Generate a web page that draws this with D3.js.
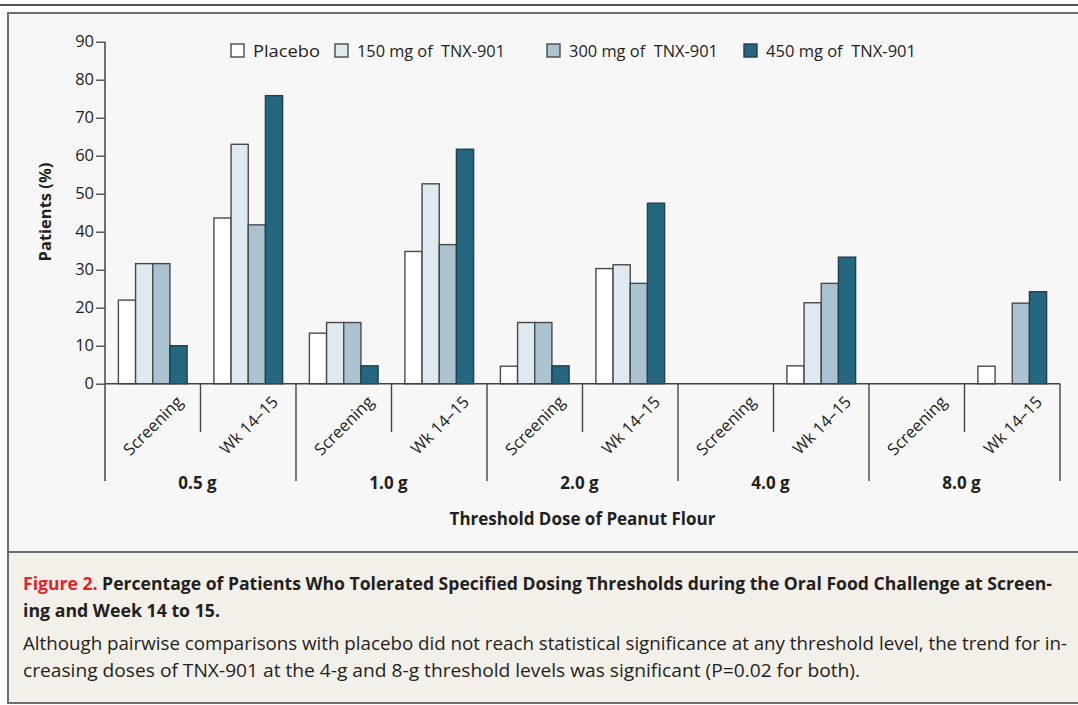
<!DOCTYPE html>
<html lang="en">
<head>
	<meta charset="UTF-8">
	<title>Figure 2</title>
	<style>
		html, body {width: 100%; height: 100%; padding: 0; margin: 0; background: #fff;}
		text {font-family: "Open Sans", "Noto Sans", sans-serif; fill: #231f20;}
		.bold {font-weight: 700;}
	</style>
	<script src="https://d3js.org/d3.v7.min.js"></script>
</head>
<body>
<script>
// data
var doses = ['0.5 g', '1.0 g', '2.0 g', '4.0 g', '8.0 g'];
var periods = ['Screening', 'Wk 14\u201315'];
var series = ['Placebo', '150 mg of  TNX-901', '300 mg of  TNX-901', '450 mg of  TNX-901'];
var colors = ['#ffffff', '#dfe9f0', '#abc3d1', '#24677e'];
var yTicks = [0, 10, 20, 30, 40, 50, 60, 70, 80, 90];
// one value per dose x period, in order
var placebo = [22, 43.6, 13.3, 34.8, 4.6, 30.3, 0, 4.7, 0, 4.6];
var mg150 = [31.6, 63, 16.1, 52.6, 16.1, 31.3, 0, 21.3, 0, 0];
var mg300 = [31.6, 41.8, 16.1, 36.6, 16.1, 26.4, 0, 26.4, 0, 21.2];
var mg450 = [10, 75.8, 4.7, 61.7, 4.7, 47.5, 0, 33.3, 0, 24.2];
var captionTitle = ['Percentage of Patients Who Tolerated Specified Dosing Thresholds during the Oral Food Challenge at Screen-',
	'ing and Week 14 to 15.'];
var captionBody = ['Although pairwise comparisons with placebo did not reach statistical significance at any threshold level, the trend for in-',
	'creasing doses of TNX-901 at the 4-g and 8-g threshold levels was significant (P=0.02 for both).'];
</script>

<script>
	var width = 1078, height = 705;
	var svg = d3.select('body').append('svg')
		.attr('width', width)
		.attr('height', height);

	// frame
	svg.append('rect').attr('x', 0).attr('y', 0).attr('width', width).attr('height', height).attr('fill', '#ffffff');
	svg.append('line').attr('x1', 0).attr('x2', width).attr('y1', 5).attr('y2', 5)
		.attr('stroke', '#555').attr('stroke-width', 2);
	svg.append('rect').attr('x', 8).attr('y', 13).attr('width', width).attr('height', 539)
		.attr('fill', '#f7f7f7').attr('stroke', '#6d6d6d').attr('stroke-width', 2);
	svg.append('rect').attr('x', 8).attr('y', 552).attr('width', width).attr('height', 151)
		.attr('fill', '#f3efe9').attr('stroke', '#6d6d6d').attr('stroke-width', 2);

	var groups = [];
	doses.forEach(function (d) { periods.forEach(function (p) { groups.push(d + '|' + p); }); });
	var allSeries = [placebo, mg150, mg300, mg450];

	var x0 = d3.scaleBand().domain(groups).range([105, 1060]).paddingInner(0).paddingOuter(0);
	var xDose = d3.scaleBand().domain(doses).range([105, 1060]);
	var x1 = d3.scaleBand().domain(series).range([0, x0.bandwidth()]).paddingInner(0).paddingOuter(0.78);
	var y = d3.scaleLinear().domain([0, 90]).range([383.7, 41.7]);

	var g = svg.append('g');

	// bars
	groups.forEach(function (grp, i) {
		series.forEach(function (s, j) {
			var v = allSeries[j][i];
			if (!v) return;
			g.append('rect')
				.attr('x', x0(grp) + x1(s))
				.attr('y', y(v))
				.attr('width', x1.bandwidth())
				.attr('height', y(0) - y(v))
				.attr('fill', colors[j])
				.attr('stroke', j === 3 ? '#233f4b' : '#4a4a4a')
				.attr('stroke-width', 1.4);
		});
	});

	// y axis (ticks only from d3, labels drawn below at a larger size)
	var yAxis = g.append('g')
		.attr('transform', 'translate(105,0)')
		.call(d3.axisLeft(y).tickValues(yTicks).tickSize(9).tickFormat('').tickSizeOuter(0));
	yAxis.select('.domain').attr('stroke', '#444').attr('stroke-width', 1.5)
		.attr('d', 'M0,' + y(90) + 'V481');
	yAxis.selectAll('.tick line').attr('stroke', '#444').attr('stroke-width', 1.3);
	g.selectAll('.ylab').data(yTicks).enter().append('text')
		.attr('class', 'ylab')
		.attr('x', 94)
		.attr('y', function (d) { return y(d); })
		.attr('dy', '0.35em')
		.attr('text-anchor', 'end')
		.attr('font-size', 16.5)
		.text(function (d) { return d; });

	// x baseline
	g.append('line').attr('x1', 105).attr('x2', 1060).attr('y1', y(0)).attr('y2', y(0))
		.attr('stroke', '#444').attr('stroke-width', 1.5);

	// separators: minor between periods, major between doses
	groups.forEach(function (grp, i) {
		var xe = x0(grp) + x0.bandwidth();
		var major = i % 2 === 1;
		g.append('line').attr('x1', xe).attr('x2', xe).attr('y1', y(0)).attr('y2', major ? 481 : 432)
			.attr('stroke', '#444').attr('stroke-width', 1.4);
	});

	// period labels
	groups.forEach(function (grp) {
		var cx = x0(grp) + x0.bandwidth() / 2 + 31;
		g.append('text')
			.attr('transform', 'translate(' + cx + ',403) rotate(-45)')
			.attr('text-anchor', 'end')
			.attr('font-size', 16.5)
			.text(grp.split('|')[1]);
	});

	// dose labels
	doses.forEach(function (d) {
		g.append('text').attr('class', 'bold')
			.attr('x', xDose(d) + xDose.bandwidth() / 2 - 3)
			.attr('y', 489)
			.attr('text-anchor', 'middle')
			.attr('font-size', 17)
			.text(d);
	});

	// axis titles
	g.append('text').attr('class', 'bold')
		.attr('x', 582.5).attr('y', 525).attr('text-anchor', 'middle').attr('font-size', 17)
		.text('Threshold Dose of Peanut Flour');
	g.append('text').attr('class', 'bold')
		.attr('transform', 'translate(51,212) rotate(-90)').attr('text-anchor', 'middle').attr('font-size', 16.5)
		.text('Patients (%)');

	// legend
	var legendX = [231, 335, 547, 744];
	var legendW = [67, 148, 149, 150];
	series.forEach(function (s, j) {
		var lg = g.append('g').attr('transform', 'translate(' + legendX[j] + ',44)');
		lg.append('rect').attr('width', 13).attr('height', 13)
			.attr('fill', colors[j]).attr('stroke', j === 3 ? '#233f4b' : '#4a4a4a').attr('stroke-width', 1.4);
		lg.append('text').attr('x', 22).attr('y', 12.5).attr('font-size', 16.5)
			.attr('xml:space', 'preserve').style('white-space', 'pre')
			.attr('textLength', legendW[j]).attr('lengthAdjust', 'spacingAndGlyphs')
			.text(s);
	});

	// caption
	var cap = svg.append('g');
	var t1 = cap.append('text').attr('x', 23).attr('y', 590).attr('font-size', 17)
		.attr('textLength', 1029).attr('lengthAdjust', 'spacingAndGlyphs');
	t1.append('tspan').attr('class', 'bold').style('fill', '#e3232b').text('Figure 2. ');
	t1.append('tspan').attr('class', 'bold').text(captionTitle[0]);
	cap.append('text').attr('class', 'bold').attr('x', 23).attr('y', 617).attr('font-size', 17)
		.attr('textLength', 197).attr('lengthAdjust', 'spacingAndGlyphs').text(captionTitle[1]);
	cap.append('text').attr('x', 23).attr('y', 650).attr('font-size', 17.5)
		.attr('textLength', 1044).attr('lengthAdjust', 'spacingAndGlyphs').text(captionBody[0]);
	cap.append('text').attr('x', 23).attr('y', 677).attr('font-size', 17.5)
		.attr('textLength', 837).attr('lengthAdjust', 'spacingAndGlyphs').text(captionBody[1]);
</script>
</body>
</html>
